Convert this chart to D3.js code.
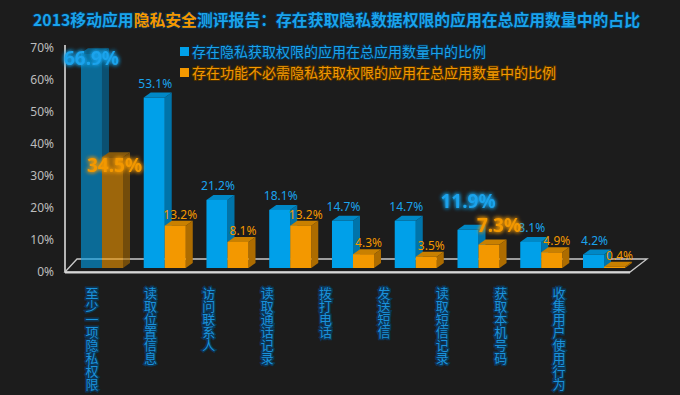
<!DOCTYPE html>
<html>
<head>
<meta charset="utf-8">
<script src="https://cdn.jsdelivr.net/npm/d3@7"></script>
<style>
  html, body { margin: 0; padding: 0; background: #1c1c1c; }
  svg { display: block; font-family: "Noto Sans", "Noto Sans CJK SC", sans-serif; }
</style>
</head>
<body>
<svg id="chart" width="680" height="395"></svg>
<script>
// data
const categories = ['至少一项隐私权限', '读取位置信息', '访问联系人', '读取通话记录', '拨打电话', '发送短信', '读取短信记录', '获取本机号码', '收集用户使用行为'];
const privacyShare = [66.9, 53.1, 21.2, 18.1, 14.7, 14.7, 11.9, 8.1, 4.2];
const unneededShare = [34.5, 13.2, 8.1, 13.2, 4.3, 3.5, 7.3, 4.9, 0.4];
const seriesNames = ['存在隐私获取权限的应用在总应用数量中的比例', '存在功能不必需隐私获取权限的应用在总应用数量中的比例'];
const yTicks = [0, 10, 20, 30, 40, 50, 60, 70];

const BLUE = { front: '#00a0e9', side: '#0074aa', top: '#0088c6', text: '#1aa3ec' };
const ORANGE = { front: '#f39800', side: '#ad6c00', top: '#c98000', text: '#f39800' };
const DX = 7, DY = 5;

const svg = d3.select('#chart');
svg.append('rect').attr('width', 680).attr('height', 395).attr('fill', '#1c1c1c');

const defs = svg.append('defs');
const glow = defs.append('filter').attr('id', 'glow')
  .attr('x', '-20%').attr('y', '-40%').attr('width', '140%').attr('height', '180%');
glow.append('feGaussianBlur').attr('in', 'SourceGraphic').attr('stdDeviation', 2).attr('result', 'b');
const gm = glow.append('feMerge');
gm.append('feMergeNode').attr('in', 'b');
gm.append('feMergeNode').attr('in', 'b');
gm.append('feMergeNode').attr('in', 'SourceGraphic');

// title
const title = svg.append('text')
  .attr('x', 33).attr('y', 20).attr('dy', '0.35em')
  .attr('font-size', 16).attr('font-weight', 'bold')
  .attr('textLength', 607).attr('lengthAdjust', 'spacingAndGlyphs')
  .attr('font-family', '"Noto Sans CJK SC", sans-serif')
  .attr('stroke', '#0b2d45').attr('stroke-width', 2).attr('paint-order', 'stroke')
  .attr('fill', BLUE.text);
title.append('tspan').text('2013移动应用');
title.append('tspan').attr('fill', ORANGE.text).text('隐私安全');
title.append('tspan').text('测评报告：存在获取隐私数据权限的应用在总应用数量中的占比');

// scales
const y = d3.scaleLinear().domain([0, 70]).range([268, 43.3]);
const x = d3.scaleBand().domain(categories).range([70.6, 635.4])
  .paddingInner(0.33).paddingOuter(0.165);
const xSub = d3.scaleBand().domain([0, 1]).range([0, x.bandwidth()]);
const xLabel = d3.scalePoint().domain(categories).range([92, 559]);

// y axis
svg.append('line').attr('x1', 65).attr('x2', 65).attr('y1', 45).attr('y2', 272)
  .attr('stroke', '#b4b4b4').attr('stroke-width', 2);
svg.append('g').selectAll('text').data(yTicks).join('text')
  .attr('x', 54).attr('y', d => y(d) + 4).attr('dy', '0.35em')
  .attr('text-anchor', 'end').attr('font-size', 12).attr('fill', '#bdbdbd')
  .text(d => d + '%');

// floor
svg.append('path')
  .attr('d', 'M65,272 L77,259 L647,259 L630,272 Z')
  .attr('fill', 'none').attr('stroke', '#c8c8c8').attr('stroke-width', 1.3);
svg.append('line').attr('x1', 65).attr('x2', 630).attr('y1', 272.5).attr('y2', 272.5)
  .attr('stroke', '#d6d6d6').attr('stroke-width', 2);

// bars
function bar3d(g, x0, w, top, base, c) {
  g.append('path')
    .attr('d', `M${x0 + w},${top} L${x0 + w + DX},${top - DY} L${x0 + w + DX},${base - DY} L${x0 + w},${base} Z`)
    .attr('fill', c.side);
  g.append('path')
    .attr('d', `M${x0},${top} L${x0 + DX},${top - DY} L${x0 + w + DX},${top - DY} L${x0 + w},${top} Z`)
    .attr('fill', c.top);
  g.append('rect').attr('x', x0).attr('y', top).attr('width', w).attr('height', base - top)
    .attr('fill', c.front);
}

const series = [privacyShare, unneededShare];
const colors = [BLUE, ORANGE];
const bars = svg.append('g');
categories.forEach((cat, i) => {
  const g = bars.append('g').attr('opacity', i === 0 ? 0.6 : 1);
  series.forEach((vals, s) => {
    bar3d(g, x(cat) + xSub(s), xSub.bandwidth(), y(vals[i]), y(0), colors[s]);
  });
});

// value labels (highlighted ones are bigger, with glow, drawn on top)
const big = { '0-0': [0, 12], '0-1': [2, 14.5], '6-0': [0, -22], '6-1': [10, -12.6] };
const normalLabels = svg.append('g');
const bigLabels = svg.append('g');
categories.forEach((cat, i) => {
  series.forEach((vals, s) => {
    const cx = x(cat) + xSub(s) + xSub.bandwidth() / 2;
    const key = i + '-' + s;
    const t = (big[key] ? bigLabels : normalLabels).append('text').attr('text-anchor', 'middle')
      .attr('fill', colors[s].text).text(vals[i].toFixed(1) + '%');
    if (big[key]) {
      t.attr('x', cx + big[key][0]).attr('y', y(vals[i]) + big[key][1])
        .attr('font-size', 19).attr('font-weight', 'bold').attr('filter', 'url(#glow)');
    } else {
      t.attr('x', cx + (s ? 5 : 1)).attr('y', y(vals[i]) - (s ? 7 : 10))
        .attr('font-size', 12);
    }
  });
});

// legend
const legend = svg.append('g');
seriesNames.forEach((name, s) => {
  const ly = 52 + s * 21;
  legend.append('rect').attr('x', 180).attr('y', ly - 5).attr('width', 9).attr('height', 9)
    .attr('fill', colors[s].front);
  legend.append('text').attr('x', 192).attr('y', ly).attr('dy', '0.35em')
    .attr('font-size', 14).attr('font-family', '"Noto Sans CJK SC", sans-serif')
    .attr('stroke', s ? '#4a2e00' : '#0b2d45').attr('stroke-width', 2).attr('paint-order', 'stroke')
    .attr('fill', colors[s].text).text(name);
});

// category labels, written vertically
svg.append('g').attr('font-size', 13)
  .attr('font-family', '"Noto Sans CJK SC", sans-serif')
  .selectAll('text').data(categories).join('text')
  .attr('x', d => xLabel(d)).attr('y', 287)
  .style('writing-mode', 'vertical-rl')
  .attr('fill', '#1a92da').attr('stroke', '#0c3556').attr('stroke-width', 3)
  .attr('paint-order', 'stroke')
  .text(d => d);
</script>
</body>
</html>
